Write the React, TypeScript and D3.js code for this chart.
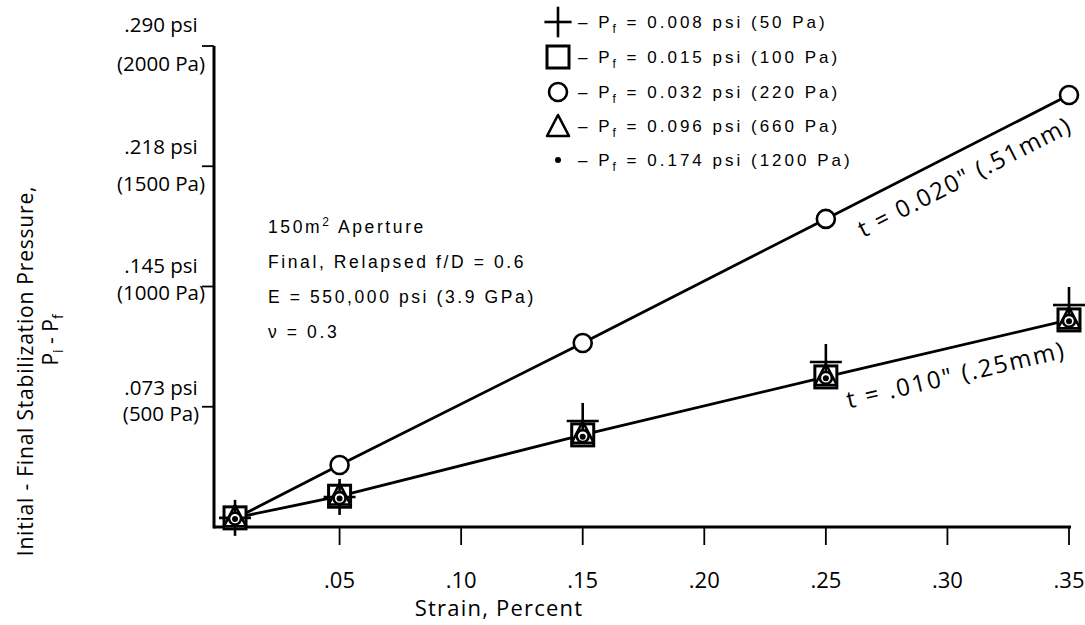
import React from "react";
import * as d3 from "d3";

// ---- data ----
const strain = [0.007, 0.05, 0.15, 0.25, 0.35];
const thick020Circle = [35, 258, 765, 1281, 1796];
const thin010Plus = [38, 125, 441, 686, 923];
const thin010Square = [38, 128, 383, 624, 861];
const thin010Circle = [35, 120, 378, 620, 857];
const thin010Triangle = [45, 135, 392, 632, 868];
const thin010Dot = [33, 118, 375, 618, 855];

const xTicks = [0.05, 0.1, 0.15, 0.2, 0.25, 0.3, 0.35];
const xTickLabels = [".05", ".10", ".15", ".20", ".25", ".30", ".35"];
const yTicksPa = [500, 1000, 1500, 2000];
const yTickPsi = [".073 psi", ".145 psi", ".218 psi", ".290 psi"];
const yTickPaLabels = ["(500 Pa)", "(1000 Pa)", "(1500 Pa)", "(2000 Pa)"];

const legendSymbols = ["plus", "square", "circle", "triangle", "dot"];
const legendValues = [
  "0.008 psi (50 Pa)",
  "0.015 psi (100 Pa)",
  "0.032 psi (220 Pa)",
  "0.096 psi (660 Pa)",
  "0.174 psi (1200 Pa)",
];

const notes = ["Final, Relapsed f/D = 0.6", "E = 550,000 psi (3.9 GPa)", "ν = 0.3"];

const W = 1085;
const H = 625;
const FONT = "'Open Sans', 'DejaVu Sans', sans-serif";
const LFONT = "'Liberation Sans', Arial, sans-serif";

// label placement offsets (style only)
const psiOffset = [-12, -14, -12, -14];
const paOffset = [14, 13, 25, 25];

function Marker({ kind, cx, cy, size = 1 }: { kind: string; cx: number; cy: number; size?: number }) {
  const sw = 2.6;
  if (kind === "plus") {
    return (
      <g stroke="#000" strokeWidth={sw}>
        <line x1={cx - 16 * size} x2={cx + 16 * size} y1={cy} y2={cy} />
        <line x1={cx} x2={cx} y1={cy - 18 * size} y2={cy + 18 * size} />
      </g>
    );
  }
  if (kind === "square") {
    const h = 11 * size;
    return <rect x={cx - h} y={cy - h} width={2 * h} height={2 * h} fill="#fff" stroke="#000" strokeWidth={sw + 0.4} />;
  }
  if (kind === "circle") {
    return <circle cx={cx} cy={cy} r={6 * size} fill="#fff" stroke="#000" strokeWidth={sw} />;
  }
  if (kind === "bigcircle") {
    return <circle cx={cx} cy={cy} r={9 * size} fill="#fff" stroke="#000" strokeWidth={sw} />;
  }
  if (kind === "triangle") {
    const w = 11 * size;
    const h = 10 * size;
    return (
      <path
        d={`M${cx},${cy - h - 1}L${cx + w},${cy + h}L${cx - w},${cy + h}Z`}
        fill="none"
        stroke="#000"
        strokeWidth={sw}
        strokeLinejoin="round"
      />
    );
  }
  return <circle cx={cx} cy={cy} r={3 * size} fill="#000" />;
}

export default function App() {
  const x = d3.scaleLinear().domain([0, 0.35]).range([218, 1069]);
  const y = d3.scaleLinear().domain([0, 2000]).range([527, 46]);
  const axisX = 214;

  const line = d3
    .line<number>()
    .x((_, i) => x(strain[i]))
    .y((d) => y(d));

  const upperAngle =
    (Math.atan2(y(thick020Circle[4]) - y(thick020Circle[3]), x(strain[4]) - x(strain[3])) * 180) / Math.PI;
  const lowerAngle =
    (Math.atan2(y(thin010Square[4]) - y(thin010Square[3]), x(strain[4]) - x(strain[3])) * 180) / Math.PI;
  const lerp = (arr: number[], s: number) => {
    const t = (s - strain[3]) / (strain[4] - strain[3]);
    return arr[3] + t * (arr[4] - arr[3]);
  };
  const uS = 0.259;
  const lS = 0.256;

  const legendY = [22, 57, 92, 126, 160];

  return (
    <svg width={W} height={H} style={{ position: "absolute", left: 0, top: 0, background: "#fff" }}>
      <rect width={W} height={H} fill="#fff" />
      {/* axes */}
      <line x1={axisX} x2={axisX} y1={y(2000)} y2={y(0) + 1.5} stroke="#000" strokeWidth={3} />
      <line x1={axisX} x2={x(0.35) + 2} y1={y(0)} y2={y(0)} stroke="#000" strokeWidth={3} />
      {xTicks.map((t, i) => (
        <g key={i}>
          <line x1={x(t)} x2={x(t)} y1={y(0)} y2={y(0) + 18} stroke="#000" strokeWidth={1.8} />
          <text x={x(t)} y={588} textAnchor="middle" fontFamily={FONT} fontSize={22}>
            {xTickLabels[i]}
          </text>
        </g>
      ))}
      {yTicksPa.map((t, i) => (
        <g key={i}>
          <line x1={axisX - 12} x2={axisX} y1={y(t)} y2={y(t)} stroke="#000" strokeWidth={1.8} />
          <text x={161} y={y(t) + psiOffset[i]} textAnchor="middle" fontFamily={FONT} fontSize={20.5}>
            {yTickPsi[i]}
          </text>
          <text x={161} y={y(t) + paOffset[i]} textAnchor="middle" fontFamily={FONT} fontSize={20.5}>
            {yTickPaLabels[i]}
          </text>
        </g>
      ))}
      <text x={499} y={616} textAnchor="middle" fontFamily={FONT} fontSize={22} letterSpacing={1.2}>
        Strain, Percent
      </text>
      <text
        transform={`translate(33,371) rotate(-90)`}
        textAnchor="middle"
        fontFamily={FONT}
        fontSize={21}
        letterSpacing={0.8}
      >
        Initial - Final Stabilization Pressure,
      </text>
      <text transform={`translate(58,340) rotate(-90)`} textAnchor="middle" fontFamily={FONT} fontSize={21}>
        P<tspan fontSize={14} dy={5}>i</tspan>
        <tspan dy={-5}>{"  -  P"}</tspan>
        <tspan fontSize={14} dy={5}>f</tspan>
      </text>

      {/* lines */}
      <path d={line(thick020Circle) || ""} fill="none" stroke="#000" strokeWidth={2.8} />
      <path d={line(thin010Square) || ""} fill="none" stroke="#000" strokeWidth={2.8} />

      {/* lower cluster markers */}
      {strain.map((s, i) => (
        <g key={i}>
          <Marker kind="square" cx={x(s)} cy={y(thin010Square[i])} />
          <Marker kind="plus" cx={x(s)} cy={y(thin010Plus[i])} />
          <Marker kind="triangle" cx={x(s)} cy={y(thin010Triangle[i])} />
          <Marker kind="circle" cx={x(s)} cy={y(thin010Circle[i])} />
          <Marker kind="dot" cx={x(s)} cy={y(thin010Dot[i])} />
        </g>
      ))}
      {/* upper circles */}
      {strain.slice(1).map((s, i) => (
        <Marker key={i} kind="bigcircle" cx={x(s)} cy={y(thick020Circle[i + 1])} />
      ))}

      {/* line labels */}
      <text
        transform={`translate(${x(uS)},${y(lerp(thick020Circle, uS))}) rotate(${upperAngle})`}
        y={34}
        fontFamily={FONT}
        fontSize={24}
        letterSpacing={1.8}
      >
        t = 0.020" (.51mm)
      </text>
      <text
        transform={`translate(${x(lS)},${y(lerp(thin010Square, lS))}) rotate(${lowerAngle})`}
        y={36}
        fontFamily={FONT}
        fontSize={24}
        letterSpacing={2}
      >
        t = .010" (.25mm)
      </text>

      {/* notes */}
      <text x={268} y={233} fontFamily={LFONT} fontSize={17.5} letterSpacing={2.6}>
        150m<tspan fontSize={12} dy={-7}>2</tspan>
        <tspan dy={7}> Aperture</tspan>
      </text>
      {notes.map((n, i) => (
        <text key={i} x={268} y={268 + i * 35} fontFamily={LFONT} fontSize={17.5} letterSpacing={2.6}>
          {n}
        </text>
      ))}

      {/* legend */}
      {legendSymbols.map((k, i) => (
        <g key={i}>
          <Marker kind={k === "circle" ? "bigcircle" : k} cx={558} cy={legendY[i]} size={k === "plus" ? 0.85 : 1} />
          <text x={578} y={legendY[i] + 6} fontFamily={LFONT} fontSize={17} letterSpacing={3}>
            – P<tspan fontSize={12} dy={5}>f</tspan>
            <tspan dy={-5}> = {legendValues[i]}</tspan>
          </text>
        </g>
      ))}
    </svg>
  );
}
